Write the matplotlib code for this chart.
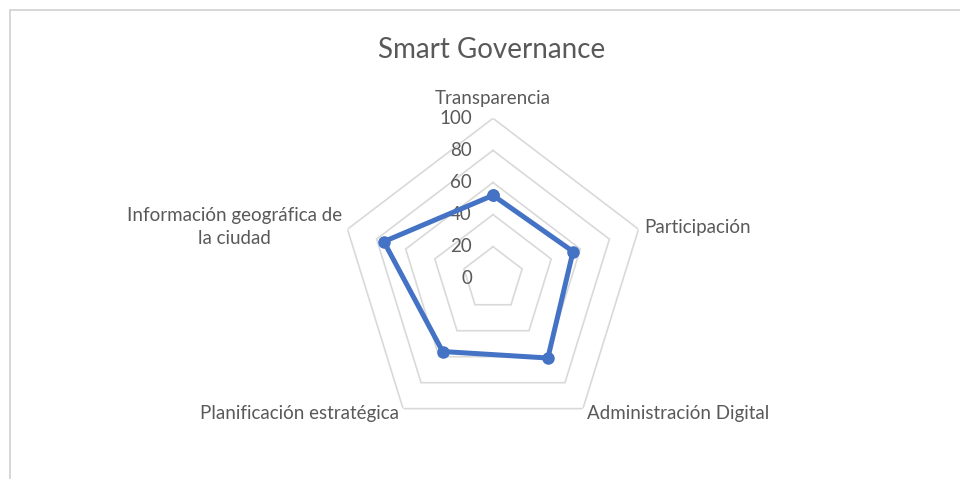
import numpy as np
import matplotlib
matplotlib.use("Agg")
import matplotlib.pyplot as plt
from matplotlib.patches import Rectangle
from matplotlib.transforms import ScaledTranslation

# ---- data ----
categories = ["Transparencia", "Participación", "Administración Digital",
              "Planificación estratégica", "Información geográfica de\nla ciudad"]
values = [52, 55, 61, 56, 75]
r_ticks = [0, 20, 40, 60, 80, 100]
title = "Smart Governance"

TEXT = "#595959"
GRID = "#d9d9d9"
BLUE = "#4472C4"
FONT = "Lato"

W, H = 960, 479
fig = plt.figure(figsize=(W / 100, H / 100), dpi=100)
fig.patch.set_facecolor("white")

# chart border (extends past right/bottom edges)
fig.patches.append(Rectangle((10 / W, -0.2), 2.0, (H - 10) / H + 0.2,
                             transform=fig.transFigure, fill=False,
                             edgecolor="#d4d4d4", linewidth=1.3))

cx, cy = 493, 278.8
rx, ry = 153, 160.5
ax = fig.add_axes([(cx - rx) / W, (H - cy - ry) / H, 2 * rx / W, 2 * ry / H],
                  projection="polar")
ax.set_aspect("auto")
ax.set_theta_zero_location("N")
ax.set_theta_direction(-1)
ax.set_ylim(0, 100)
ax.grid(False)
ax.spines["polar"].set_visible(False)
ax.set_xticks([])
ax.set_yticks([])
ax.patch.set_alpha(0)

n = len(categories)
angles = np.arange(n) * 2 * np.pi / n
closed = np.append(angles, angles[0])

# pentagon rings
for r in r_ticks[1:]:
    ax.plot(closed, [r] * (n + 1), color=GRID, linewidth=1.2, zorder=1,
            solid_joinstyle="miter")

# tick labels
off = ScaledTranslation(-21 / 100, 0, fig.dpi_scale_trans)
for r in r_ticks:
    ax.text(0, r, str(r), transform=ax.transData + off, ha="right", va="center",
            fontsize=13.5, color=TEXT, family=FONT, zorder=2)

# data
vals = np.append(values, values[0])
ax.plot(closed, vals, color=BLUE, linewidth=3.6, marker="o", markersize=8,
        markerfacecolor=BLUE, markeredgecolor=BLUE, zorder=3,
        solid_joinstyle="round")

# category labels
label_pos = [
    (112.6, "center", "center"),
    (103.8, "left", "center"),
    (104.0, "left", "center"),
    (104.0, "right", "center"),
    (104.0, "right", "center"),
]
for ang, lab, (r, ha, va) in zip(angles, categories, label_pos):
    ax.text(ang, r, lab, ha=ha, va=va, multialignment="center",
            fontsize=13.5, color=TEXT, family=FONT, linespacing=1.4)

fig.text(492 / W, 1 - 50 / H, title, ha="center", va="center",
         fontsize=20, color=TEXT, family=FONT)

fig.savefig("out.png", dpi=100)
